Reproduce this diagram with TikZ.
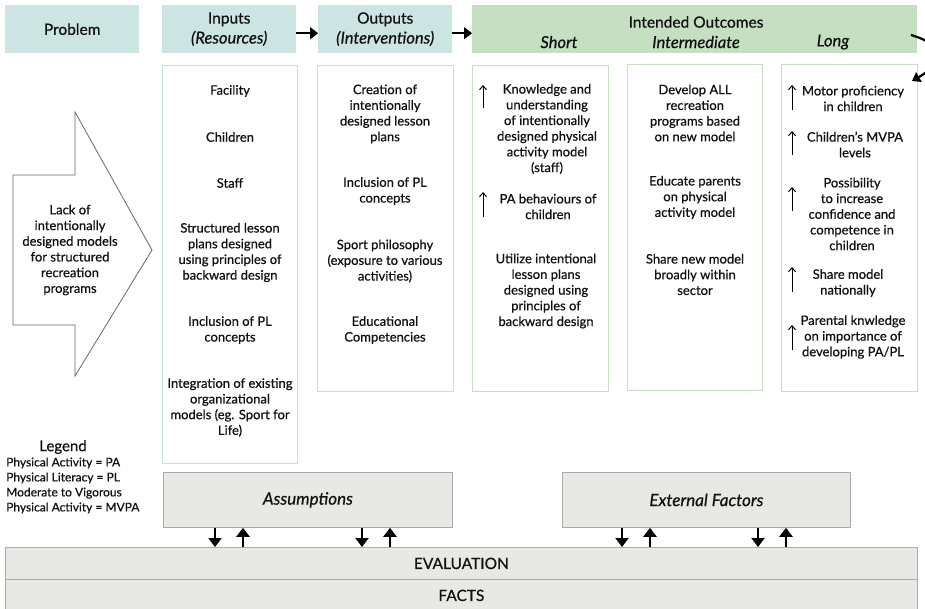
\documentclass[tikz,border=0pt]{standalone}
\usepackage{fontspec}
\setmainfont{Lato}[FakeBold=0.6]
\usetikzlibrary{arrows.meta}
\definecolor{hdrteal}{HTML}{CCE5E3}
\definecolor{hdrgreen}{HTML}{C6DFC3}
\definecolor{boxteal}{HTML}{C4E1DF}
\definecolor{boxgreen}{HTML}{C6DEC2}
\definecolor{greyfill}{HTML}{E8E8E5}
\definecolor{greyline}{HTML}{ABABAB}
\definecolor{txtcol}{HTML}{111111}
\tikzset{
  hdr/.style={fill=hdrteal, anchor=north west, inner sep=0pt, align=center, text=txtcol,
    font=\fontsize{15.5}{20}\selectfont},
  cboxteal/.style={draw=boxteal, fill=white, line width=0.9pt, anchor=north west, inner sep=0pt},
  cboxgreen/.style={draw=boxgreen, fill=white, line width=0.9pt, anchor=north west, inner sep=0pt},
  txt/.style={inner sep=0pt, align=center, text=txtcol, font=\fontsize{13}{15.7}\selectfont},
  greybox/.style={draw=greyline, fill=greyfill, line width=0.8pt, anchor=north west, inner sep=0pt,
    text=txtcol, font=\fontsize{15.5}{18}\selectfont},
  hdrarrow/.style={line width=2.6pt, -{Triangle[length=8pt,width=12pt]}},
  vertarrow/.style={line width=2.6pt, -{Triangle[length=9pt,width=13pt]}},
  uparrow/.style={line width=1pt, -{Straight Barb[length=4pt,width=7pt]}},
}
\begin{document}
\begin{tikzpicture}[x=1pt,y=-1pt]
\useasboundingbox (0,0) rectangle (925,609);

% header row
\node[hdr, minimum width=134pt, minimum height=48pt] (problem) at (5,5) {\raisebox{-2pt}{Problem}};
\node[hdr, minimum width=134pt, minimum height=48pt] (inputs) at (162,5) {\raisebox{-2pt}{Inputs}\\\fontsize{16.5}{20}\selectfont\itshape \raisebox{-2pt}{(Resources)}};
\node[hdr, minimum width=134pt, minimum height=48pt] (outputs) at (318,5) {\raisebox{-2pt}{Outputs}\\\fontsize{16.5}{20}\selectfont\itshape \raisebox{-2pt}{(Interventions)}};
\node[hdr, fill=hdrgreen, minimum width=445pt, minimum height=48pt] (outcomes) at (472,5) {};
\node[txt, font=\fontsize{15.5}{18}\selectfont] (iotitle) at (696,22) {Intended Outcomes};
\node[txt, font=\fontsize{16.5}{18}\selectfont\itshape] (short) at (559,42) {Short};
\node[txt, font=\fontsize{16.5}{18}\selectfont\itshape] (inter) at (696,42) {Intermediate};
\node[txt, font=\fontsize{16.5}{18}\selectfont\itshape] (long) at (833,42) {Long};

\draw[hdrarrow] ([yshift=-4pt]inputs.east) -- ([yshift=-4pt]outputs.west);
\draw[hdrarrow] ([yshift=-4pt]outputs.east) -- ([yshift=-4pt]outcomes.west);

% problem arrow shape
\draw[greyline!60!black, line width=0.8pt, fill=white]
  (13,175) -- (75,175) -- (75,112) -- (152,250) -- (75,376) -- (75,325) -- (13,325) -- cycle;
\node[txt] (problemtxt) at (70,250) {Lack of\\intentionally\\designed models\\for structured\\recreation\\programs};

% content boxes
\node[cboxteal, minimum width=135pt, minimum height=398pt] (inbox) at (162,65) {};
\node[cboxteal, minimum width=136pt, minimum height=326pt] (outbox) at (317,65) {};
\node[cboxgreen, minimum width=136pt, minimum height=326pt] (shortbox) at (472,65) {};
\node[cboxgreen, minimum width=135pt, minimum height=326pt] (interbox) at (627,64) {};
\node[cboxgreen, minimum width=136pt, minimum height=327pt] (longbox) at (781,64) {};

% inputs
\node[txt] (in1) at (230,91) {Facility};
\node[txt] (in2) at (230,137) {Children};
\node[txt] (in3) at (230,183) {Staff};
\node[txt] (in4) at (230,252.5) {Structured lesson\\plans designed\\using principles of\\backward design};
\node[txt] (in5) at (230,330) {Inclusion of PL\\concepts};
\node[txt] (in6) at (230,407.5) {Integration of existing\\organizational\\models (eg. Sport for\\Life)};

% outputs
\node[txt] (out1) at (385,114) {Creation of\\intentionally\\designed lesson\\plans};
\node[txt] (out2) at (385,191) {Inclusion of PL\\concepts};
\node[txt] (out3) at (385,261) {Sport philosophy\\(exposure to various\\activities)};
\node[txt] (out4) at (385,330) {Educational\\Competencies};

% short
\node[txt] (sh1) at (547,129) {Knowledge and\\understanding\\of intentionally\\designed physical\\activity model\\(staff)};
\draw[uparrow] (483,108) -- (483,85);
\node[txt] (sh2) at (548,206.5) {PA behaviours of\\children};
\draw[uparrow] (483,217) -- (483,192);
\node[txt] (sh3) at (546,291) {Utilize intentional\\lesson plans\\designed using\\principles of\\backward design};

% intermediate
\node[txt] (im1) at (695,113) {Develop ALL\\recreation\\programs based\\on new model};
\node[txt] (im2) at (695,197.5) {Educate parents\\on physical\\activity model};
\node[txt] (im3) at (695,274.5) {Share new model\\broadly within\\sector};

% long
\node[txt] (lg1) at (853,98.5) {Motor proficiency\\in children};
\draw[uparrow] (792,110) -- (792,85);
\node[txt] (lg2) at (855,144.5) {Children’s MVPA\\levels};
\draw[uparrow] (792,155) -- (792,131);
\node[txt] (lg3) at (852,214) {Possibility\\to increase\\confidence and\\competence in\\children};
\draw[uparrow] (792,211) -- (792,187);
\node[txt] (lg4) at (848,283) {Share model\\nationally};
\draw[uparrow] (792,292) -- (792,267);
\node[txt] (lg5) at (853,337) {Parental knwledge\\on importance of\\developing PA/PL};
\draw[uparrow] (792,350) -- (792,325);

% curved arrow at top right
\coordinate (curvestart) at (911,35);
\coordinate (curveend) at (912,81);
\draw[line width=2.2pt, -{Triangle[length=8pt,width=11pt]}] (curvestart) .. controls (945,45) and (945,62) .. (curveend);

% legend
\node[txt, font=\fontsize{15}{17}\selectfont] (legendtitle) at (63,447) {Legend};
\node[txt, align=left, anchor=west, font=\fontsize{12}{15}\selectfont] (legendtxt) at (6,485.5)
  {Physical Activity = PA\\Physical Literacy = PL\\Moderate to Vigorous\\Physical Activity = MVPA};

% assumptions / external factors
\node[greybox, minimum width=289pt, minimum height=55pt, font=\fontsize{17}{18}\selectfont\itshape] (assump) at (163,472) {Assumptions};
\node[greybox, minimum width=288pt, minimum height=55pt, font=\fontsize{17}{18}\selectfont\itshape] (extern) at (562,472) {External Factors};

% evaluation / facts
\node[greybox, minimum width=912pt, minimum height=32pt] (evaluation) at (5,547) {EVALUATION};
\node[greybox, minimum width=912pt, minimum height=32pt] (facts) at (5,579) {FACTS};

% vertical arrows
\coordinate (xa) at (215,0);
\coordinate (xb) at (243,0);
\coordinate (xc) at (362,0);
\coordinate (xd) at (390,0);
\coordinate (xe) at (622,0);
\coordinate (xf) at (650,0);
\coordinate (xg) at (758,0);
\coordinate (xh) at (786,0);
\draw[vertarrow] (assump.south -| xa) -- (evaluation.north -| xa);
\draw[vertarrow] (evaluation.north -| xb) -- (assump.south -| xb);
\draw[vertarrow] (assump.south -| xc) -- (evaluation.north -| xc);
\draw[vertarrow] (evaluation.north -| xd) -- (assump.south -| xd);
\draw[vertarrow] (extern.south -| xe) -- (evaluation.north -| xe);
\draw[vertarrow] (evaluation.north -| xf) -- (extern.south -| xf);
\draw[vertarrow] (extern.south -| xg) -- (evaluation.north -| xg);
\draw[vertarrow] (evaluation.north -| xh) -- (extern.south -| xh);
\end{tikzpicture}
\end{document}
